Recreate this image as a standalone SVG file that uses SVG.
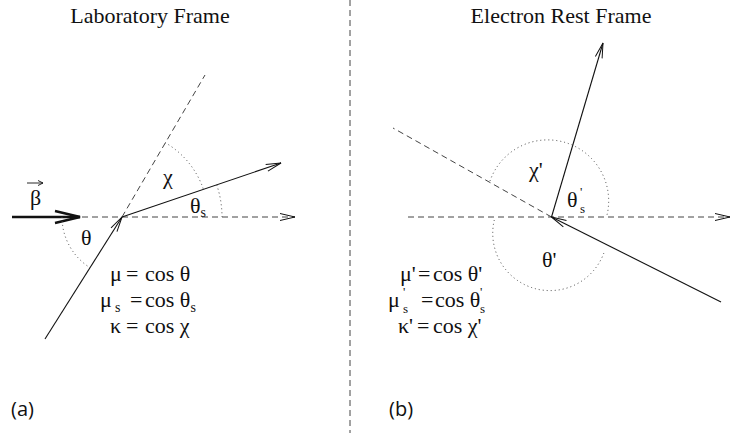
<svg xmlns="http://www.w3.org/2000/svg" width="731" height="433" viewBox="0 0 731 433">
<style>
.t{font-family:"Liberation Serif","DejaVu Serif","Times New Roman",serif;font-size:22px;fill:#111}
.s{font-size:14px}
.p{font-size:13px}
.lab{font-family:"Open Sans","Noto Sans",sans-serif;font-size:20px;fill:#111}
.dash{fill:none;stroke:#444;stroke-width:1;stroke-dasharray:6 4}
.dot{fill:none;stroke:#444;stroke-width:1;stroke-dasharray:1 3}
.sol{fill:none;stroke:#111;stroke-width:1.1}
</style>
<defs>
<marker id="open" markerUnits="userSpaceOnUse" markerWidth="16" markerHeight="9" refX="15" refY="4" orient="auto" overflow="visible">
<path d="M0,0.5 L15,4 L0,7.5" fill="none" stroke="#111" stroke-width="1" stroke-dasharray="none"/>
</marker>
</defs>
<rect width="731" height="433" fill="#fff"/>
<line x1="350" y1="0" x2="350" y2="433" class="dash" stroke-dasharray="7 7"/>
<text class="t" x="150" y="23" text-anchor="middle">Laboratory Frame</text>
<text class="t" x="561" y="23" text-anchor="middle">Electron Rest Frame</text>
<text class="lab" x="11" y="416">(a)</text>
<text class="lab" x="389" y="416">(b)</text>
<g id="connectors">
<line x1="12" y1="217" x2="295" y2="217" class="dash" marker-end="url(#open)"/>
<line x1="122" y1="217" x2="205" y2="75" class="dash"/>
<line x1="45" y1="339" x2="122" y2="217" class="sol" marker-end="url(#open)"/>
<line x1="122" y1="217" x2="281" y2="163" class="sol" marker-end="url(#open)"/>
<line x1="12" y1="217" x2="80" y2="217" stroke="#111" stroke-width="2.6"/>
<polyline points="55,211 80,217 55,223" fill="none" stroke="#111" stroke-width="2.4"/>
<line x1="408" y1="217" x2="730" y2="217" class="dash" marker-end="url(#open)"/>
<line x1="551.5" y1="217" x2="393" y2="128" class="dash"/>
<line x1="551.5" y1="217" x2="603" y2="43" class="sol" marker-end="url(#open)"/>
<line x1="721" y1="302" x2="551.5" y2="217" class="sol" marker-end="url(#open)"/>
</g>
<g id="arcs">
<path class="dot" d="M62,217 A60,60 0 0 0 90,267.7"/>
<path class="dot" d="M165,142.5 A86,86 0 0 1 203.4,189.3"/>
<path class="dot" d="M216.7,184.8 A100,100 0 0 1 222,217"/>
<path class="dot" d="M490,181 A61,61 0 0 1 606.5,217"/>
<path class="dot" d="M494.3,220 A57.3,57.3 0 0 0 604.3,251.7"/>
</g>
<g id="beta">
<text class="t" x="30" y="205">β</text>
<line x1="27" y1="183" x2="43" y2="183" stroke="#111" stroke-width="0.9"/>
<polyline points="38,180.5 43,183 38,185.5" fill="none" stroke="#111" stroke-width="0.9"/>
</g>
<g id="labels-a">
<text class="t" x="163" y="184">χ</text>
<text class="t" y="213"><tspan x="190">θ</tspan><tspan class="s" dy="4">s</tspan></text>
<text class="t" x="81" y="245">θ</text>
</g>
<g id="equations-a">
<text class="t" y="281"><tspan x="110">μ</tspan><tspan x="126">=</tspan><tspan x="145">cos θ</tspan></text>
<text class="t" y="307"><tspan x="100">μ</tspan><tspan class="s" x="115" dy="5">s</tspan><tspan x="130" dy="-5">=</tspan><tspan x="145">cos θ</tspan><tspan class="s" dy="5">s</tspan></text>
<text class="t" y="333"><tspan x="110">κ</tspan><tspan x="126">=</tspan><tspan x="145">cos χ</tspan></text>
</g>
<g id="labels-b">
<text class="t" x="529" y="177">χ'</text>
<text class="t" y="207"><tspan x="567">θ</tspan><tspan class="p" x="580" dy="-11">'</tspan><tspan class="p" x="580" dy="17">s</tspan></text>
<text class="t" x="542" y="267">θ'</text>
</g>
<g id="equations-b">
<text class="t" y="281"><tspan x="400">μ'</tspan><tspan x="418">=</tspan><tspan x="433">cos θ'</tspan></text>
<text class="t" y="307"><tspan x="388">μ</tspan><tspan class="p" x="403" dy="-11">'</tspan><tspan class="p" x="403" dy="17">s</tspan><tspan x="421" dy="-6">=</tspan><tspan x="435">cos θ</tspan><tspan class="p" x="480" dy="-11">'</tspan><tspan class="p" x="480" dy="17">s</tspan></text>
<text class="t" y="333"><tspan x="398">κ'</tspan><tspan x="417">=</tspan><tspan x="433">cos χ'</tspan></text>
</g>
</svg>
